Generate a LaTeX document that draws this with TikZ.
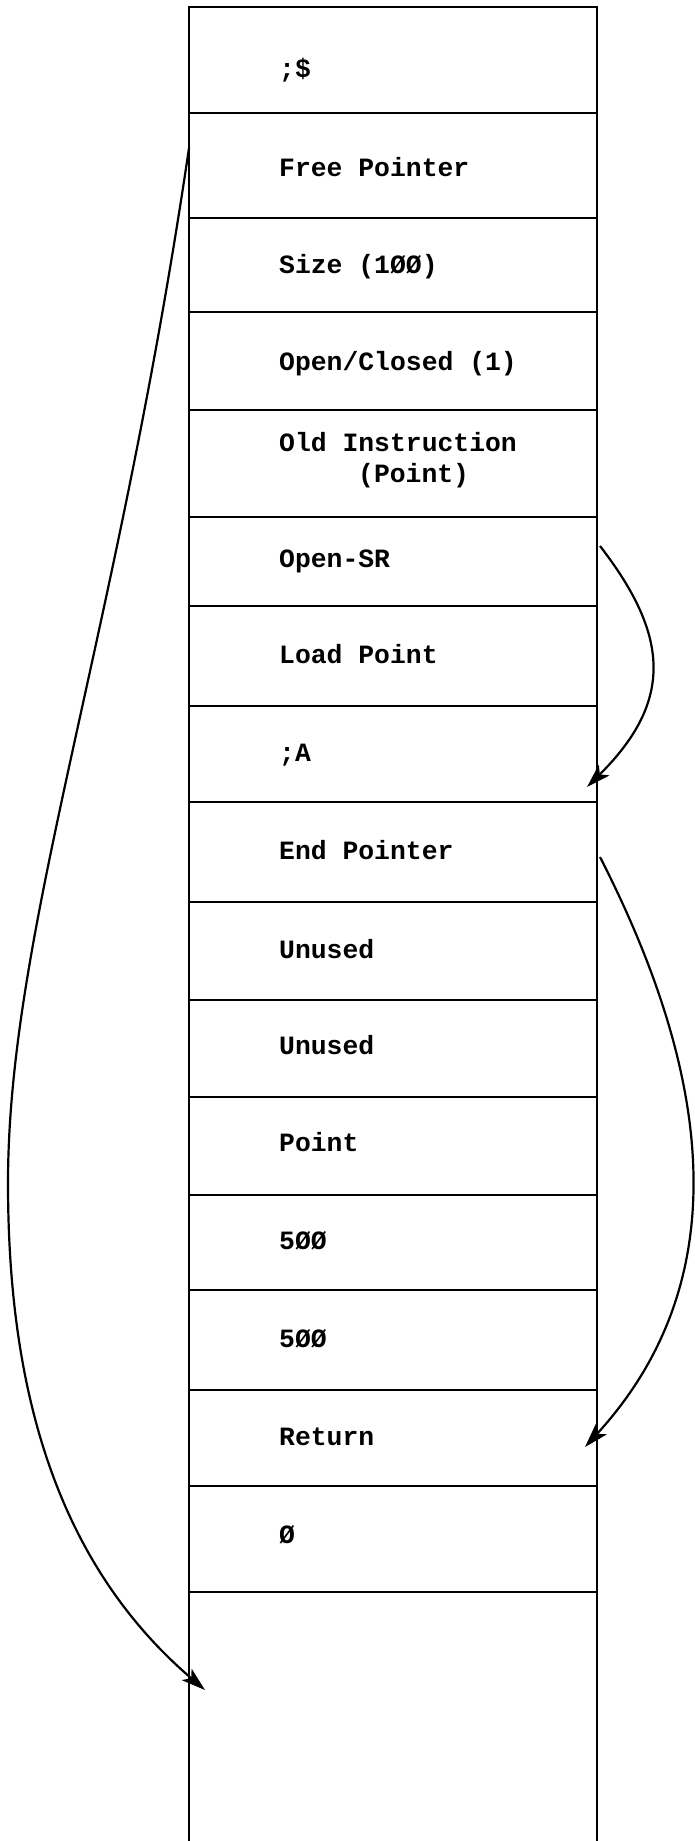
\documentclass[tikz,border=0pt]{standalone}
\usepackage{fontspec}
\setmonofont{Liberation Mono}
\usetikzlibrary{arrows.meta,calc}
\begin{document}
\begin{tikzpicture}[x=1pt,y=-1pt,
  cell/.style={draw, line width=2.6pt, rectangle, inner sep=0pt, outer sep=0pt, anchor=north west, minimum width=408pt},
  opencell/.style={rectangle, inner sep=0pt, outer sep=0pt, anchor=north west, minimum width=408pt},
  side/.style={line width=2.6pt},
  lbl/.style={anchor=base west, inner sep=0pt, font=\ttfamily\bfseries\fontsize{26.4}{31}\selectfont},
  link/.style={line width=2.2pt, -{Stealth[length=24pt,width=15pt,inset=6pt]}}]
\useasboundingbox (0,0) rectangle (694,1841);
% memory cells
\node[cell, minimum height=106pt] (r1)  at (189,7)    {};
\node[cell, minimum height=105pt] (r2)  at (189,113)  {};
\node[cell, minimum height=94pt]  (r3)  at (189,218)  {};
\node[cell, minimum height=98pt]  (r4)  at (189,312)  {};
\node[cell, minimum height=107pt] (r5)  at (189,410)  {};
\node[cell, minimum height=89pt]  (r6)  at (189,517)  {};
\node[cell, minimum height=100pt] (r7)  at (189,606)  {};
\node[cell, minimum height=96pt]  (r8)  at (189,706)  {};
\node[cell, minimum height=100pt] (r9)  at (189,802)  {};
\node[cell, minimum height=98pt]  (r10) at (189,902)  {};
\node[cell, minimum height=97pt]  (r11) at (189,1000) {};
\node[cell, minimum height=98pt]  (r12) at (189,1097) {};
\node[cell, minimum height=95pt]  (r13) at (189,1195) {};
\node[cell, minimum height=100pt] (r14) at (189,1290) {};
\node[cell, minimum height=96pt]  (r15) at (189,1390) {};
\node[cell, minimum height=106pt] (r16) at (189,1486) {};
\node[opencell, minimum height=249pt] (r17) at (189,1592) {};
\draw[side] (r17.north west) -- (r17.south west);
\draw[side] (r17.north east) -- (r17.south east);
% labels
\node[lbl] (t1)  at (279,78)   {;\$};
\node[lbl] (t2)  at (279,176)  {Free Pointer};
\node[lbl] (t3)  at (279,273)  {Size (1ØØ)};
\node[lbl] (t4)  at (279,370)  {Open/Closed (1)};
\node[lbl] (t5a) at (279,451)  {Old Instruction};
\node[lbl] (t5b) at (358,482)  {(Point)};
\node[lbl] (t6)  at (279,567)  {Open-SR};
\node[lbl] (t7)  at (279,663)  {Load Point};
\node[lbl] (t8)  at (279,761)  {;A};
\node[lbl] (t9)  at (279,859)  {End Pointer};
\node[lbl] (t10) at (279,958)  {Unused};
\node[lbl] (t11) at (279,1054) {Unused};
\node[lbl] (t12) at (279,1151) {Point};
\node[lbl] (t13) at (279,1249) {5ØØ};
\node[lbl] (t14) at (279,1347) {5ØØ};
\node[lbl] (t15) at (279,1445) {Return};
\node[lbl] (t16) at (279,1543) {Ø};
% pointers
\draw[link] ($(r2.north west)+(0,35)$) .. controls +(-73,495) and +(0,-250) .. (8,1183)
            .. controls +(0,200) and +(-152,-130) .. ($(r17.north west)+(16,98)$);
\draw[link] ($(r6.north east)+(3,29)$) .. controls +(68,88) and +(88,-87) .. ($(r8.south east)+(-10,-15)$);
\draw[link] ($(r9.east)+(3,5)$) .. controls +(111,217) and +(154,-168) .. ($(r15.east)+(-12,9)$);
\end{tikzpicture}
\end{document}
